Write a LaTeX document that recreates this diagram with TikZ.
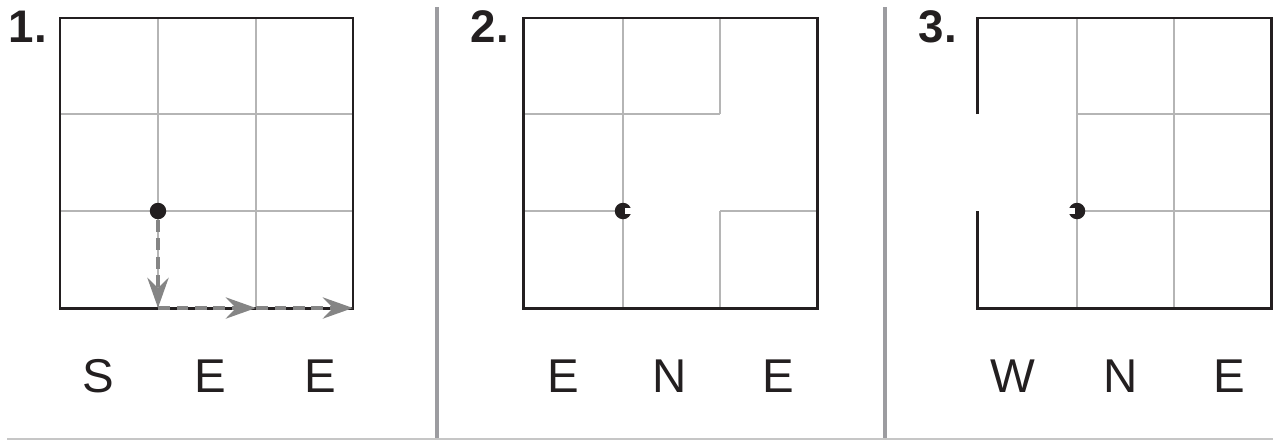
\documentclass[tikz,border=0pt]{standalone}
\usepackage{fontspec}
\setmainfont{Liberation Sans}
\usetikzlibrary{arrows.meta}
\definecolor{ink}{HTML}{231F20}
\definecolor{gridgray}{HTML}{B5B5B5}
\definecolor{walkgray}{HTML}{858585}
\definecolor{rulegray}{HTML}{9C9CA0}
\tikzset{
  gridline/.style={gridgray, line width=0.6pt},
  wall/.style={ink, line width=1.7pt},
  walk/.style={walkgray, line width=2.8pt, dash pattern=on 0.24cm off 0.13cm,
    -{Stealth[length=0.6cm, width=0.42cm, inset=0.2cm]}},
  dot/.style={circle, fill=ink, inner sep=0pt, minimum size=0.33cm},
  numlbl/.style={anchor=base, font=\fontsize{26}{30}\selectfont\bfseries},
  dirlbl/.style={anchor=base, font=\fontsize{27}{32}\selectfont}
}
\begin{document}
\begin{tikzpicture}[x=0.02cm,y=-0.02cm,every node/.style={text=ink}]
\useasboundingbox (0,0) rectangle (1273,440);
% separators
\draw[rulegray, line width=2.3pt] (437,7)--(437,440);
\draw[rulegray, line width=2.3pt] (885,7)--(885,440);
\draw[gray!45, line width=0.9pt] (7,439)--(1273,439);
% panel 1
\draw[gridline] (158,18)--(158,308);
\draw[gridline] (256,18)--(256,308);
\draw[gridline] (60,114)--(353,114);
\draw[gridline] (60,211)--(353,211);
\draw[wall] (60,18) rectangle (353,308);
\node[dot] (start1) at (158,211) {};
\coordinate (turn1) at (158,308);
\coordinate (mid1) at (256,308);
\coordinate (end1) at (353,308);
\draw[walk] (start1) -- (turn1);
\draw[walk] (turn1) -- (mid1);
\draw[walk] (mid1) -- (end1);
\node[numlbl] (num1) at (28,42) {1.};
\node[dirlbl] (dir11) at (98,392) {S};
\node[dirlbl] (dir12) at (210,392) {E};
\node[dirlbl] (dir13) at (320,392) {E};
% panel 2
\draw[gridline] (623,18)--(623,308);
\draw[gridline] (720,18)--(720,114);
\draw[gridline] (720,211)--(720,308);
\draw[gridline] (523,114)--(720,114);
\draw[gridline] (523,211)--(623,211);
\draw[gridline] (720,211)--(817,211);
\draw[wall] (523,18) rectangle (817,308);
\node[dot] (start2) at (623,211) {};
\fill[white] (625,208) rectangle (633,214);
\node[numlbl] (num2) at (490,42) {2.};
\node[dirlbl] (dir21) at (563,392) {E};
\node[dirlbl] (dir22) at (670,392) {N};
\node[dirlbl] (dir23) at (778,392) {E};
% panel 3
\draw[gridline] (1077,18)--(1077,308);
\draw[gridline] (1174,18)--(1174,308);
\draw[gridline] (1077,114)--(1271,114);
\draw[gridline] (1077,211)--(1271,211);
\draw[wall] (977,114)--(977,18)--(1271,18)--(1271,308)--(977,308)--(977,211);
\node[dot] (start3) at (1077,211) {};
\fill[white] (1067,208) rectangle (1075,214);
\node[numlbl] (num3) at (938,42) {3.};
\node[dirlbl] (dir31) at (1013,392) {W};
\node[dirlbl] (dir32) at (1121,392) {N};
\node[dirlbl] (dir33) at (1229,392) {E};
\end{tikzpicture}
\end{document}
